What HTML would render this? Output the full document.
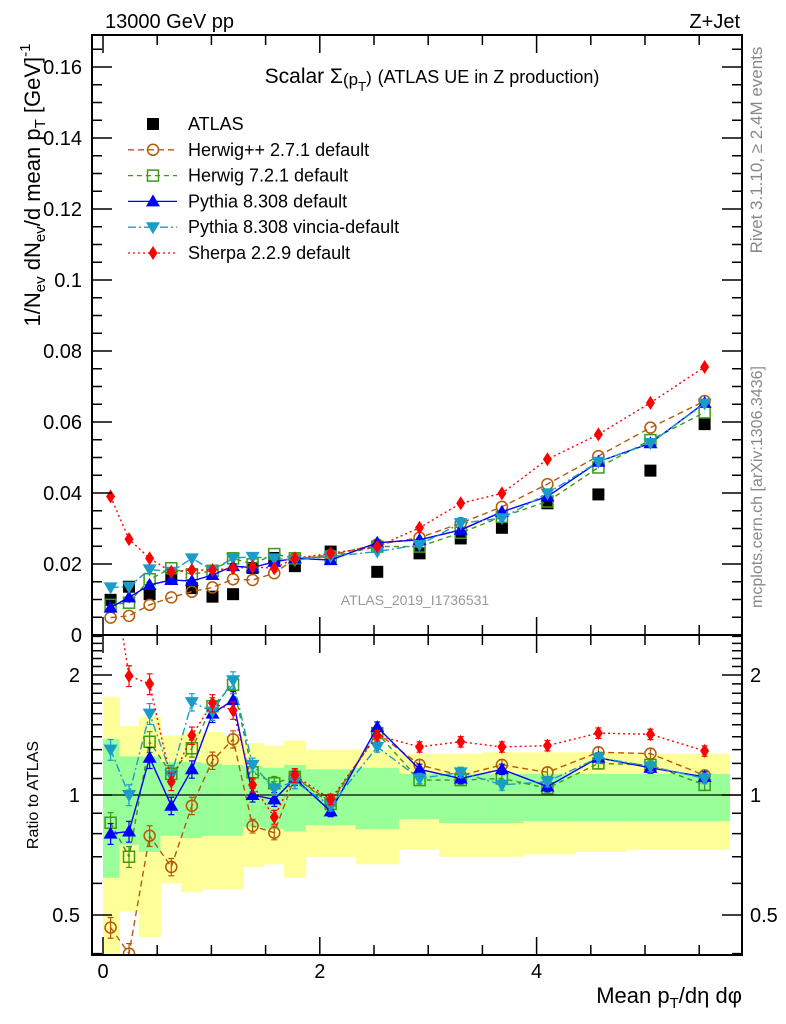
<!DOCTYPE html>
<html><head><meta charset="utf-8"><style>
body{margin:0;background:#fff;}
svg{display:block;font-family:"Liberation Sans",Arial,sans-serif;}
</style></head><body>
<svg id="c" width="786" height="1024" viewBox="0 0 786 1024" xmlns="http://www.w3.org/2000/svg">
<defs>
<clipPath id="cm"><rect x="92" y="35" width="650" height="600"/></clipPath>
<clipPath id="cr"><rect x="92" y="635" width="650" height="320"/></clipPath>
</defs>
<g id="bands" clip-path="url(#cr)"></g>
<g id="marks"></g>
<g id="axes" fill="none" stroke="#000"></g>
<text x="105" y="28" font-size="20">13000 GeV pp</text>
<text x="740" y="28" font-size="20" text-anchor="end">Z+Jet</text>
<text x="432" y="83" font-size="21" text-anchor="middle">Scalar Σ<tspan font-size="17" dy="2">(p</tspan><tspan font-size="13" dy="6">T</tspan><tspan font-size="17" dy="-8">)</tspan> <tspan font-size="18">(ATLAS UE in Z production)</tspan></text>
<text x="415" y="605" font-size="14" fill="#999" text-anchor="middle">ATLAS_2019_I1736531</text>
<text transform="translate(762,150) rotate(-90)" font-size="17" fill="#888" text-anchor="middle">Rivet 3.1.10, ≥ 2.4M events</text>
<text transform="translate(762,487) rotate(-90)" font-size="16" fill="#888" text-anchor="middle">mcplots.cern.ch [arXiv:1306.3436]</text>
<text transform="translate(40,185) rotate(-90)" font-size="22" text-anchor="middle">1/N<tspan font-size="15" dy="5">ev</tspan><tspan dy="-5"> dN</tspan><tspan font-size="15" dy="5">ev</tspan><tspan dy="-5">/d mean p</tspan><tspan font-size="15" dy="5">T</tspan><tspan dy="-5">  [GeV]</tspan><tspan font-size="15" dy="-10">-1</tspan></text>
<text transform="translate(38,795) rotate(-90)" font-size="16" text-anchor="middle">Ratio to ATLAS</text>
<text x="742" y="1003" font-size="22" text-anchor="end">Mean p<tspan font-size="15" dy="5">T</tspan><tspan dy="-5">/dη dφ</tspan></text>
<g id="legend"></g>
</svg>
<script>
const xs=[0.07,0.24,0.43,0.63,0.82,1.01,1.2,1.38,1.58,1.77,2.1,2.53,2.92,3.3,3.68,4.1,4.57,5.05,5.55];
const binEdges=[0,0.15,0.33,0.53,0.72,0.91,1.1,1.29,1.48,1.67,1.87,2.33,2.73,3.1,3.5,3.88,4.35,4.83,5.3,5.78];
const atlas=[0.0099,0.0136,0.0115,0.016,0.0132,0.0108,0.0115,0.0189,0.0217,0.0194,0.0235,0.0178,0.0230,0.0272,0.0302,0.0371,0.0396,0.0463,0.0594];
const herwigpp=[0.0049,0.0054,0.0085,0.0106,0.0122,0.0134,0.0157,0.0155,0.0174,0.0215,0.0225,0.0255,0.0274,0.0315,0.0361,0.0425,0.0504,0.0584,0.0659];
const herwig7=[0.0085,0.0091,0.0157,0.0188,0.0171,0.0181,0.0216,0.0199,0.0228,0.0216,0.0221,0.0249,0.0249,0.0288,0.0333,0.0376,0.0472,0.0549,0.0627];
const pythia=[0.0077,0.0106,0.0141,0.0155,0.0152,0.0169,0.0194,0.019,0.0206,0.0216,0.0211,0.026,0.0268,0.0296,0.0347,0.0390,0.0488,0.054,0.0654];
const vincia=[0.0134,0.0136,0.0185,0.0178,0.0216,0.0183,0.0217,0.022,0.0216,0.0211,0.0221,0.0235,0.0254,0.0315,0.0329,0.0399,0.0488,0.0541,0.0652];
const sherpa=[0.039,0.027,0.0216,0.0178,0.0183,0.0183,0.0188,0.0192,0.0188,0.0216,0.023,0.0249,0.0302,0.0371,0.0399,0.0495,0.0565,0.0654,0.0755];
const rHerwigpp=[0.465,0.40,0.79,0.66,0.94,1.22,1.38,0.836,0.804,1.11,0.96,1.43,1.19,1.12,1.19,1.14,1.28,1.27,1.12];
const rHerwig7=[0.852,0.70,1.36,1.13,1.31,1.67,1.89,1.14,1.07,1.11,0.95,1.43,1.09,1.09,1.10,1.04,1.20,1.19,1.06];
const rPythia=[0.80,0.81,1.24,0.94,1.16,1.6,1.73,1.0,0.975,1.10,0.91,1.48,1.16,1.10,1.16,1.05,1.24,1.17,1.11];
const rVincia=[1.30,1.0,1.6,1.12,1.71,1.62,1.94,1.19,1.04,1.08,0.94,1.32,1.10,1.14,1.06,1.08,1.24,1.18,1.10];
const rSherpa=[3.9,1.99,1.9,1.08,1.41,1.70,1.63,1.06,0.88,1.12,0.975,1.41,1.32,1.36,1.32,1.33,1.43,1.42,1.29];
const yHi=[1.76,1.49,1.57,1.41,1.44,1.44,1.41,1.35,1.33,1.37,1.30,1.30,1.27,1.27,1.28,1.28,1.28,1.27,1.27];
const yLo=[0.35,0.51,0.44,0.60,0.57,0.58,0.58,0.66,0.67,0.62,0.70,0.67,0.73,0.70,0.70,0.71,0.72,0.73,0.73];
const gHi=[1.38,1.25,1.25,1.21,1.21,1.20,1.19,1.18,1.17,1.19,1.16,1.17,1.13,1.13,1.13,1.13,1.13,1.13,1.13];
const gLo=[0.62,0.75,0.72,0.79,0.78,0.79,0.79,0.83,0.82,0.81,0.84,0.82,0.87,0.85,0.85,0.86,0.86,0.86,0.86];
const rErr=[0.06,0.06,0.06,0.05,0.05,0.05,0.05,0.04,0.04,0.04,0.03,0.03,0.03,0.03,0.03,0.03,0.03,0.03,0.03];
const xTicks=[0,2,4];
const yTicks=[0,0.02,0.04,0.06,0.08,0.1,0.12,0.14,0.16];
const yTickLabels=["0","0.02","0.04","0.06","0.08","0.1","0.12","0.14","0.16"];
const rTicks=[0.5,1,2];
const rTickLabels=["0.5","1","2"];

const X=v=>103+v*108.4;
const Y=v=>635-v*3550;
const R=v=>795-120*Math.log2(v);
const NS="http://www.w3.org/2000/svg";
function mk(tag,attrs,parent){const e=document.createElementNS(NS,tag);for(const k in attrs)e.setAttribute(k,attrs[k]);parent.appendChild(e);return e;}
const svg=document.getElementById('c');
const bands=document.getElementById('bands');
const marks=document.getElementById('marks');
const axes=document.getElementById('axes');
const legend=document.getElementById('legend');

for(let i=0;i<xs.length;i++){
  const x0=X(binEdges[i]),x1=X(binEdges[i+1]);
  const yb=mk('rect',{x:x0,y:R(yHi[i]),width:x1-x0+0.5,height:R(yLo[i])-R(yHi[i]),fill:'#ffff99'},bands);
  
  
  const gb=mk('rect',{x:x0,y:R(gHi[i]),width:x1-x0+0.5,height:R(gLo[i])-R(gHi[i]),fill:'#99ff99'},bands);
  
  
}
const one=mk('line',{x1:92,x2:742,y1:R(1),y2:R(1),stroke:'#000','stroke-width':1.3},bands);



function marker(g,type,x,y,color){
  let e;
  if(type==='sq') e=mk('rect',{x:x-6,y:y-6,width:12,height:12,fill:'#000'},g);
  else if(type==='circ') e=mk('circle',{cx:x,cy:y,r:5.5,fill:'none',stroke:color,'stroke-width':1.5},g);
  else if(type==='osq') e=mk('rect',{x:x-5.5,y:y-5.5,width:11,height:11,fill:'none',stroke:color,'stroke-width':1.5},g);
  else if(type==='up') e=mk('polygon',{points:`${x},${y-7} ${x-7},${y+5} ${x+7},${y+5}`,fill:color},g);
  else if(type==='down') e=mk('polygon',{points:`${x},${y+7} ${x-7},${y-5} ${x+7},${y-5}`,fill:color},g);
  else if(type==='dia') e=mk('polygon',{points:`${x},${y-7} ${x-4.5},${y} ${x},${y+7} ${x+4.5},${y}`,fill:color},g);
  return e;
}
const series=[
 {name:'herwigpp',main:herwigpp,ratio:rHerwigpp,color:'#b35a0a',dash:'6,4',m:'circ',label:'Herwig++ 2.7.1 default'},
 {name:'herwig7',main:herwig7,ratio:rHerwig7,color:'#3c9a14',dash:'5,4',m:'osq',label:'Herwig 7.2.1 default'},
 {name:'pythia',main:pythia,ratio:rPythia,color:'#0000ff',dash:'',m:'up',label:'Pythia 8.308 default'},
 {name:'vincia',main:vincia,ratio:rVincia,color:'#1a9cc8',dash:'8,3,2,3',m:'down',label:'Pythia 8.308 vincia-default'},
 {name:'sherpa',main:sherpa,ratio:rSherpa,color:'#ff0000',dash:'2,3',m:'dia',label:'Sherpa 2.2.9 default'}
];
const ga=mk('g',{'clip-path':'url(#cm)'},marks);


atlas.forEach((v,i)=>{const p=marker(ga,'sq',X(xs[i]),Y(v));

});
series.forEach(s=>{
  const gm=mk('g',{'clip-path':'url(#cm)'},marks);
  
  
  const pl=mk('polyline',{points:s.main.map((v,i)=>X(xs[i])+','+Y(v)).join(' '),fill:'none',stroke:s.color,'stroke-width':1.4,'stroke-dasharray':s.dash},gm);
  
  
  s.main.forEach((v,i)=>{const p=marker(gm,s.m,X(xs[i]),Y(v),s.color);
  
  });
  const gr=mk('g',{'clip-path':'url(#cr)'},marks);
  
  
  const rl=mk('polyline',{points:s.ratio.map((v,i)=>X(xs[i])+','+R(v)).join(' '),fill:'none',stroke:s.color,'stroke-width':1.4,'stroke-dasharray':s.dash},gr);
  
  
  s.ratio.forEach((v,i)=>{
    const x=X(xs[i]),y1=R(v*(1+rErr[i])),y2=R(v*(1-rErr[i]));
    mk('path',{d:`M${x},${y1}V${y2}M${x-3},${y1}H${x+3}M${x-3},${y2}H${x+3}`,stroke:s.color,'stroke-width':1.2,fill:'none'},gr);
    const p=marker(gr,s.m,x,R(v),s.color);
    
    
  });
});
mk('rect',{x:92,y:35,width:650,height:600,'stroke-width':2},axes);
mk('rect',{x:92,y:635,width:650,height:320,'stroke-width':2},axes);
let d='';
for(let v=0;v<=5.9;v+=0.5){const x=X(v);const L=(Math.abs(v%2)<1e-6)?18:10;
 d+=`M${x},635V${635-L}M${x},35V${35+L}M${x},955V${955-L}M${x},635V${635+L}`;}
for(let k=0;k<=34;k++){const v=k*0.005;const y=Y(v);if(y<35)break;const L=(k%4===0)?20:10;
 d+=`M92,${y}H${92+L}M742,${y}H${742-L}`;}
for(let r=0.4;r<2.6;r+=0.1){const rr=Math.round(r*10)/10;const y=R(rr);if(y<635||y>955)continue;
 const L=(rr===0.5||rr===1||rr===2)?20:10;d+=`M92,${y}H${92+L}M742,${y}H${742-L}`;}
mk('path',{d:d,'stroke-width':1.5},axes);
yTicks.forEach((v,i)=>{const t=mk('text',{x:82,y:Y(v)+7,'font-size':20,'text-anchor':'end',fill:'#000',stroke:'none'},svg);t.textContent=yTickLabels[i];

});
rTicks.forEach((v,i)=>{const t=mk('text',{x:80,y:R(v)+7,'font-size':20,'text-anchor':'end'},svg);t.textContent=rTickLabels[i];


const t2=mk('text',{x:750,y:R(v)+7,'font-size':20,'text-anchor':'start'},svg);t2.textContent=rTickLabels[i];

});
xTicks.forEach(v=>{const t=mk('text',{x:X(v),y:978,'font-size':20,'text-anchor':'middle'},svg);t.textContent=String(v);

});
const lg=[{m:'sq',color:'#000',dash:null,label:'ATLAS',name:'atlas'}].concat(series);
lg.forEach((s,i)=>{const y=124+i*25.8;
 const g=mk('g',{},legend);
 
 
 if(s.dash!==null) mk('line',{x1:128,x2:177,y1:y,y2:y,stroke:s.color,'stroke-width':1.3,'stroke-dasharray':s.dash},g);
 marker(g,s.m,153,y,s.color);
 const t=mk('text',{x:188,y:y+6,'font-size':18},g);t.textContent=s.label;});
</script>
</body></html>
